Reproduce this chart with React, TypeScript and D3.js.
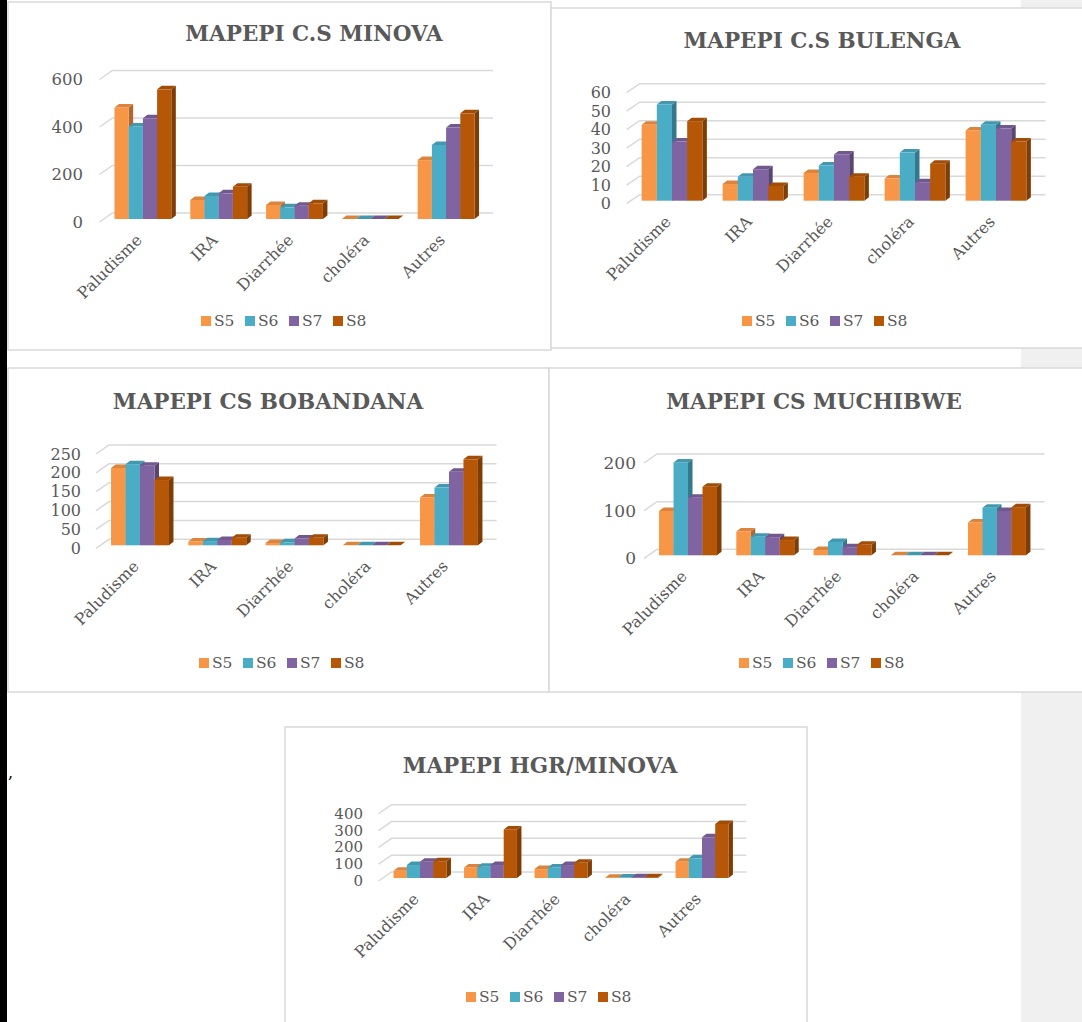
import React from 'react';
import * as d3 from 'd3';

const categories = ['Paludisme', 'IRA', 'Diarrhée', 'choléra', 'Autres'];
const seriesNames = ['S5', 'S6', 'S7', 'S8'];
const seriesColors = ['#F79646', '#4BACC6', '#8064A2', '#B65708'];

const minovaS5 = [470, 80, 59, 0, 248];
const minovaS6 = [390, 97, 49, 0, 312];
const minovaS7 = [424, 108, 56, 0, 385];
const minovaS8 = [546, 136, 66, 0, 445];
const minovaTicks = [0, 200, 400, 600];

const bulengaS5 = [41, 9, 15, 12, 38];
const bulengaS6 = [52, 13, 19, 26, 41];
const bulengaS7 = [32, 17, 25, 10, 39];
const bulengaS8 = [43, 8, 13, 20, 32];
const bulengaTicks = [0, 10, 20, 30, 40, 50, 60];

const bobandanaS5 = [205, 10, 6, 0, 127];
const bobandanaS6 = [215, 11, 8, 0, 153];
const bobandanaS7 = [211, 14, 18, 0, 195];
const bobandanaS8 = [173, 20, 20, 0, 228];
const bobandanaTicks = [0, 50, 100, 150, 200, 250];

const muchibweS5 = [93, 50, 11, 0, 69];
const muchibweS6 = [195, 39, 28, 0, 100];
const muchibweS7 = [121, 38, 17, 0, 93];
const muchibweS8 = [144, 32, 22, 0, 101];
const muchibweTicks = [0, 100, 200];

const hgrS5 = [43, 63, 53, 2, 97];
const hgrS6 = [77, 67, 63, 3, 117];
const hgrS7 = [97, 77, 77, 5, 242];
const hgrS8 = [100, 289, 91, 5, 321];
const hgrTicks = [0, 100, 200, 300, 400];

const TEXT = '#595959';
const GRID = '#D9D9D9';
const FONT = '"DejaVu Serif", "Liberation Serif", serif';

type PanelCfg = {
  title: string;
  series: number[][];
  ticks: number[];
  frame: [number, number, number, number];
  titleX: number;
  titleY: number;
  xRange: [number, number];
  yRange: [number, number];
  labelRight: number;
  tickFont: number;
  legendX: number;
  legendY: number;
};

const panels: PanelCfg[] = [
  {
    title: 'MAPEPI C.S MINOVA',
    series: [minovaS5, minovaS6, minovaS7, minovaS8],
    ticks: minovaTicks,
    frame: [8, 2, 543, 348],
    titleX: 314, titleY: 33,
    xRange: [105, 484],
    yRange: [219, 76.5],
    labelRight: 83,
    tickFont: 16.5,
    legendX: 201, legendY: 321,
  },
  {
    title: 'MAPEPI C.S BULENGA',
    series: [bulengaS5, bulengaS6, bulengaS7, bulengaS8],
    ticks: bulengaTicks,
    frame: [551, 8, 540, 340],
    titleX: 822, titleY: 40,
    xRange: [631.5, 1036.5],
    yRange: [200.7, 89.7],
    labelRight: 611,
    tickFont: 16,
    legendX: 742, legendY: 321,
  },
  {
    title: 'MAPEPI CS BOBANDANA',
    series: [bobandanaS5, bobandanaS6, bobandanaS7, bobandanaS8],
    ticks: bobandanaTicks,
    frame: [8, 368, 541, 324],
    titleX: 268, titleY: 401,
    xRange: [101.4, 487.6],
    yRange: [545.3, 451],
    labelRight: 81,
    tickFont: 16,
    legendX: 199, legendY: 663,
  },
  {
    title: 'MAPEPI CS MUCHIBWE',
    series: [muchibweS5, muchibweS6, muchibweS7, muchibweS8],
    ticks: muchibweTicks,
    frame: [549, 368, 545, 324],
    titleX: 814, titleY: 401,
    xRange: [649.4, 1035.6],
    yRange: [555.3, 460],
    labelRight: 636,
    tickFont: 17,
    legendX: 739, legendY: 663,
  },
  {
    title: 'MAPEPI HGR/MINOVA',
    series: [hgrS5, hgrS6, hgrS7, hgrS8],
    ticks: hgrTicks,
    frame: [285, 727, 522, 310],
    titleX: 540, titleY: 765,
    xRange: [384.75, 737.25],
    yRange: [878, 810.7],
    labelRight: 363,
    tickFont: 15,
    legendX: 466, legendY: 997,
  },
];

const BDX = 4.5;
const BDY = -3.5;

function Panel({ cfg }: { cfg: PanelCfg }) {
  const yMax = cfg.ticks[cfg.ticks.length - 1];
  const y = d3.scaleLinear().domain([0, yMax]).range(cfg.yRange);
  const x = d3.scaleBand<string>().domain(categories).range(cfg.xRange).paddingInner(0.25).paddingOuter(0.125);
  const xs = d3.scaleBand<string>().domain(seriesNames).range([0, x.bandwidth()]);
  const firstBar = x(categories[0]) as number;
  const gx0 = firstBar - 15;
  const gx1 = firstBar - 2;
  const gx2 = cfg.xRange[1] + 9;
  const [fx, fy, fw, fh] = cfg.frame;
  const base = y(0);

  const bars: React.ReactNode[] = [];
  categories.forEach((c, ci) => {
    seriesNames.forEach((s, si) => {
      const v = cfg.series[si][ci];
      const bx = (x(c) as number) + (xs(s) as number);
      const bw = xs.bandwidth();
      const yt = y(v);
      const col = seriesColors[si];
      const top = d3.color(col)!.darker(0.35).formatHex();
      const side = d3.color(col)!.darker(1).formatHex();
      bars.push(
        <g key={c + s}>
          <polygon points={`${bx + bw},${yt} ${bx + bw + BDX},${yt + BDY} ${bx + bw + BDX},${base + BDY} ${bx + bw},${base}`} fill={side} />
          <polygon points={`${bx},${yt} ${bx + BDX},${yt + BDY} ${bx + bw + BDX},${yt + BDY} ${bx + bw},${yt}`} fill={top} />
          <rect x={bx} y={yt} width={bw} height={base - yt} fill={col} />
        </g>
      );
    });
  });

  return (
    <g>
      <rect x={fx} y={fy} width={fw} height={fh} fill="#fff" stroke={GRID} strokeWidth={1.5} />
      <text x={cfg.titleX} y={cfg.titleY} textAnchor="middle" dominantBaseline="central" fontFamily={FONT} fontWeight="bold" fontSize={21.5} fill={TEXT}>{cfg.title}</text>
      {cfg.ticks.map((t) => (
        <g key={t}>
          <path d={`M${gx0},${y(t) + 3}L${gx1},${y(t) - 6}L${gx2},${y(t) - 6}`} fill="none" stroke={GRID} strokeWidth={1.5} />
          <text x={cfg.labelRight} y={y(t) + 3} textAnchor="end" dominantBaseline="central" fontFamily={FONT} fontSize={cfg.tickFont} fill={TEXT}>{t}</text>
        </g>
      ))}
      {bars}
      {categories.map((c) => {
        const cx = (x(c) as number) + x.bandwidth() / 2;
        const cy = base + 22;
        return (
          <text key={c} x={cx} y={cy} textAnchor="end" transform={`rotate(-45 ${cx} ${cy})`} fontFamily={FONT} fontSize={16} fill={TEXT}>{c}</text>
        );
      })}
      {seriesNames.map((s, i) => (
        <g key={s}>
          <rect x={cfg.legendX + i * 44} y={cfg.legendY - 5} width={10} height={10} fill={seriesColors[i]} />
          <text x={cfg.legendX + i * 44 + 13} y={cfg.legendY} dominantBaseline="central" fontFamily={FONT} fontSize={15.5} fill={TEXT}>{s}</text>
        </g>
      ))}
    </g>
  );
}

export default function App() {
  return (
    <svg width={1082} height={1022} style={{ position: 'absolute', left: 0, top: 0, background: '#fff' }}>
      <rect x={0} y={0} width={1082} height={1022} fill="#fff" />
      <rect x={1021} y={0} width={61} height={1022} fill="#F0F0F0" />
      <rect x={0} y={0} width={7} height={1022} fill="#000" />
      {panels.map((p) => (
        <Panel key={p.title} cfg={p} />
      ))}
      <text x={8} y={778} fontFamily={FONT} fontSize={16} fill="#000">,</text>
    </svg>
  );
}
